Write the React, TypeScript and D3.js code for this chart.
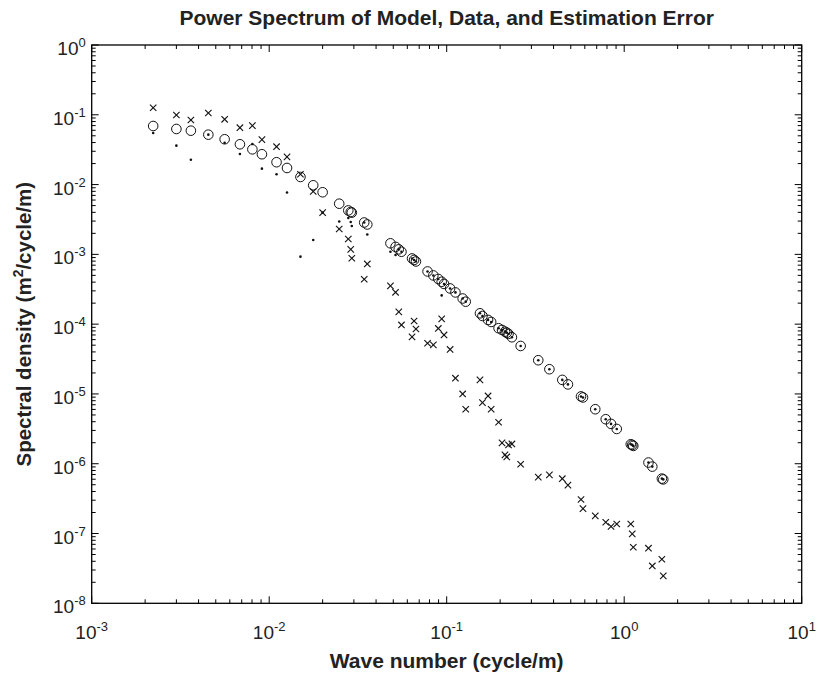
import React from "react";
import * as d3 from "d3";

// Wavenumbers (cycle/m), shared by all three series
const waveNumbers = [
  2.22e-3, 3.0e-3, 3.62e-3, 4.54e-3, 5.61e-3, 6.84e-3, 8.04e-3, 9.1e-3, 1.1e-2, 1.26e-2,
  1.5e-2, 1.77e-2, 2.0e-2, 2.48e-2, 2.79e-2, 2.88e-2, 2.92e-2, 3.43e-2, 3.57e-2, 4.82e-2,
  5.15e-2, 5.37e-2, 5.56e-2, 6.38e-2, 6.55e-2, 6.71e-2, 7.8e-2, 8.41e-2, 8.97e-2, 9.37e-2,
  9.66e-2, 1.045e-1, 1.12e-1, 1.23e-1, 1.28e-1, 1.54e-1, 1.59e-1, 1.71e-1, 1.78e-1, 1.96e-1,
  2.05e-1, 2.13e-1, 2.18e-1, 2.23e-1, 2.33e-1, 2.61e-1, 3.28e-1, 3.79e-1, 4.48e-1, 4.82e-1,
  5.71e-1, 5.86e-1, 6.87e-1, 7.87e-1, 8.43e-1, 9.08e-1, 1.089, 1.11, 1.125, 1.37,
  1.44, 1.63, 1.66,
];

// Model spectrum (open circles)
const modelSpectrum = [
  6.91e-2, 6.26e-2, 5.92e-2, 5.19e-2, 4.46e-2, 3.78e-2, 3.2e-2, 2.72e-2, 2.09e-2, 1.73e-2,
  1.285e-2, 9.77e-3, 7.76e-3, 5.32e-3, 4.26e-3, 4.05e-3, 3.96e-3, 2.86e-3, 2.68e-3, 1.44e-3,
  1.28e-3, 1.18e-3, 1.09e-3, 8.74e-4, 8.32e-4, 7.91e-4, 5.69e-4, 4.99e-4, 4.44e-4, 4.05e-4,
  3.77e-4, 3.25e-4, 2.85e-4, 2.33e-4, 2.1e-4, 1.43e-4, 1.31e-4, 1.15e-4, 1.075e-4, 8.74e-5,
  8.26e-5, 7.81e-5, 7.53e-5, 7.24e-5, 6.49e-5, 4.87e-5, 3.04e-5, 2.26e-5, 1.59e-5, 1.37e-5,
  9.21e-6, 8.91e-6, 6.04e-6, 4.34e-6, 3.72e-6, 3.15e-6, 1.9e-6, 1.86e-6, 1.8e-6, 1.04e-6,
  9.09e-7, 6.12e-7, 5.96e-7,
];

// Data spectrum (dots)
const dataSpectrum = [
  5.49e-2, 3.61e-2, 2.27e-2, 5.19e-2, 3.98e-2, 2.74e-2, 3.82e-2, 1.69e-2, 1.405e-2, 7.7e-3,
  9.27e-4, 1.61e-3, 3.96e-3, 2.96e-3, 3.32e-3, 2.91e-3, 2.55e-3, 2.86e-3, 1.93e-3, 1.09e-3,
  9.8e-4, 1.18e-3, 1.09e-3, 8.74e-4, 8.32e-4, 7.91e-4, 5.69e-4, 4.99e-4, 4.44e-4, 2.58e-4,
  3.77e-4, 3.25e-4, 2.85e-4, 2.33e-4, 2.1e-4, 1.43e-4, 1.31e-4, 1.15e-4, 1.075e-4, 8.74e-5,
  8.26e-5, 7.81e-5, 7.53e-5, 7.24e-5, 6.49e-5, 4.87e-5, 3.04e-5, 2.26e-5, 1.59e-5, 1.37e-5,
  9.21e-6, 8.91e-6, 6.04e-6, 4.34e-6, 3.72e-6, 3.15e-6, 1.9e-6, 1.86e-6, 1.8e-6, 1.04e-6,
  9.09e-7, 6.12e-7, 5.96e-7,
];

// Estimation error spectrum (crosses)
const errorSpectrum = [
  1.26e-1, 9.93e-2, 8.42e-2, 1.06e-1, 8.62e-2, 6.53e-2, 6.98e-2, 4.4e-2, 3.49e-2, 2.49e-2,
  1.405e-2, 7.96e-3, 3.96e-3, 2.31e-3, 1.66e-3, 1.18e-3, 8.79e-4, 4.4e-4, 7.29e-4, 3.53e-4,
  2.86e-4, 1.5e-4, 9.74e-5, 6.56e-5, 1.11e-4, 8.53e-5, 5.32e-5, 5.04e-5, 8.68e-5, 1.19e-4,
  7.0e-5, 4.34e-5, 1.68e-5, 1.0e-5, 6.04e-6, 1.59e-5, 7.51e-6, 9.36e-6, 6.04e-6, 3.93e-6,
  1.99e-6, 1.34e-6, 1.25e-6, 1.86e-6, 1.92e-6, 9.83e-7, 6.43e-7, 6.91e-7, 6.1e-7, 4.94e-7,
  3.07e-7, 2.27e-7, 1.79e-7, 1.45e-7, 1.26e-7, 1.37e-7, 1.37e-7, 9.87e-8, 6.36e-8, 6.16e-8,
  3.43e-8, 4.28e-8, 2.47e-8,
];

const xDecades = [-3, -2, -1, 0, 1];
const yDecades = [0, -1, -2, -3, -4, -5, -6, -7, -8];

const title = "Power Spectrum of Model, Data, and Estimation Error";
const xLabel = "Wave number (cycle/m)";
const yLabelPre = "Spectral density (m";
const yLabelSup = "2";
const yLabelPost = "/cycle/m)";

const W = 823;
const H = 675;
const L = 91.7, R = 801.7, T = 45, B = 603.3;
const FONT = "'Liberation Sans', Arial, Helvetica, sans-serif";

export default function App() {
  const x = d3.scaleLog().domain([1e-3, 10]).range([L, R]);
  const y = d3.scaleLog().domain([1e-8, 1]).range([B, T]);

  const minorX: number[] = [];
  for (let e = -3; e < 1; e++) for (let m = 2; m <= 9; m++) minorX.push(m * Math.pow(10, e));
  const minorY: number[] = [];
  for (let e = -8; e < 0; e++) for (let m = 2; m <= 9; m++) minorY.push(m * Math.pow(10, e));

  const major = 7;
  const minor = 4;
  const cs = 3.2;

  return (
    <svg width={W} height={H} style={{ position: "absolute", left: 0, top: 0, background: "#fff" }} fontFamily={FONT}>
      <rect x={0} y={0} width={W} height={H} fill="#fff" />
      {/* ticks */}
      <g stroke="#000" strokeWidth={1}>
        {xDecades.map((e) => {
          const px = x(Math.pow(10, e));
          return (
            <g key={"xm" + e}>
              <line x1={px} x2={px} y1={B} y2={B - major} />
              <line x1={px} x2={px} y1={T} y2={T + major} />
            </g>
          );
        })}
        {minorX.map((v, i) => {
          const px = x(v);
          return (
            <g key={"xn" + i}>
              <line x1={px} x2={px} y1={B} y2={B - minor} />
              <line x1={px} x2={px} y1={T} y2={T + minor} />
            </g>
          );
        })}
        {yDecades.map((e) => {
          const py = y(Math.pow(10, e));
          return (
            <g key={"ym" + e}>
              <line x1={L} x2={L + major} y1={py} y2={py} />
              <line x1={R} x2={R - major} y1={py} y2={py} />
            </g>
          );
        })}
        {minorY.map((v, i) => {
          const py = y(v);
          return (
            <g key={"yn" + i}>
              <line x1={L} x2={L + minor} y1={py} y2={py} />
              <line x1={R} x2={R - minor} y1={py} y2={py} />
            </g>
          );
        })}
      </g>
      <rect x={L} y={T} width={R - L} height={B - T} fill="none" stroke="#000" strokeWidth={1.3} />

      {/* tick labels */}
      {xDecades.map((e) => (
        <text key={"xl" + e} x={x(Math.pow(10, e))} y={B + 36} textAnchor="middle" fontSize={19} fill="#222">
          10<tspan dy={-8.5} fontSize={13}>{String(e)}</tspan>
        </text>
      ))}
      {yDecades.map((e) => (
        <text key={"yl" + e} x={L - 6} y={y(Math.pow(10, e)) + 10} textAnchor="end" fontSize={19} fill="#222">
          10<tspan dy={-8} fontSize={13}>{String(e)}</tspan>
        </text>
      ))}

      {/* series: model circles */}
      <g fill="none" stroke="#111" strokeWidth={1}>
        {waveNumbers.map((k, i) => (
          <circle key={"c" + i} cx={x(k)} cy={y(modelSpectrum[i])} r={4.8} />
        ))}
      </g>
      {/* data dots */}
      <g fill="#111">
        {waveNumbers.map((k, i) => (
          <circle key={"d" + i} cx={x(k)} cy={y(dataSpectrum[i])} r={1.3} />
        ))}
      </g>
      {/* error crosses */}
      <g stroke="#111" strokeWidth={1.1}>
        {waveNumbers.map((k, i) => {
          const px = x(k);
          const py = y(errorSpectrum[i]);
          return (
            <g key={"x" + i}>
              <line x1={px - cs} x2={px + cs} y1={py - cs} y2={py + cs} />
              <line x1={px - cs} x2={px + cs} y1={py + cs} y2={py - cs} />
            </g>
          );
        })}
      </g>

      {/* titles */}
      <text x={(L + R) / 2} y={25} textAnchor="middle" fontSize={21} fontWeight="bold" fill="#222">
        {title}
      </text>
      <text x={(L + R) / 2} y={668} textAnchor="middle" fontSize={21} fontWeight="bold" fill="#222">
        {xLabel}
      </text>
      <text
        transform={`translate(31,${(T + B) / 2}) rotate(-90)`}
        textAnchor="middle"
        fontSize={20.5}
        fontWeight="bold"
        fill="#222"
      >
        {yLabelPre}
        <tspan dy={-8} fontSize={14}>{yLabelSup}</tspan>
        <tspan dy={8}>{yLabelPost}</tspan>
      </text>
    </svg>
  );
}
